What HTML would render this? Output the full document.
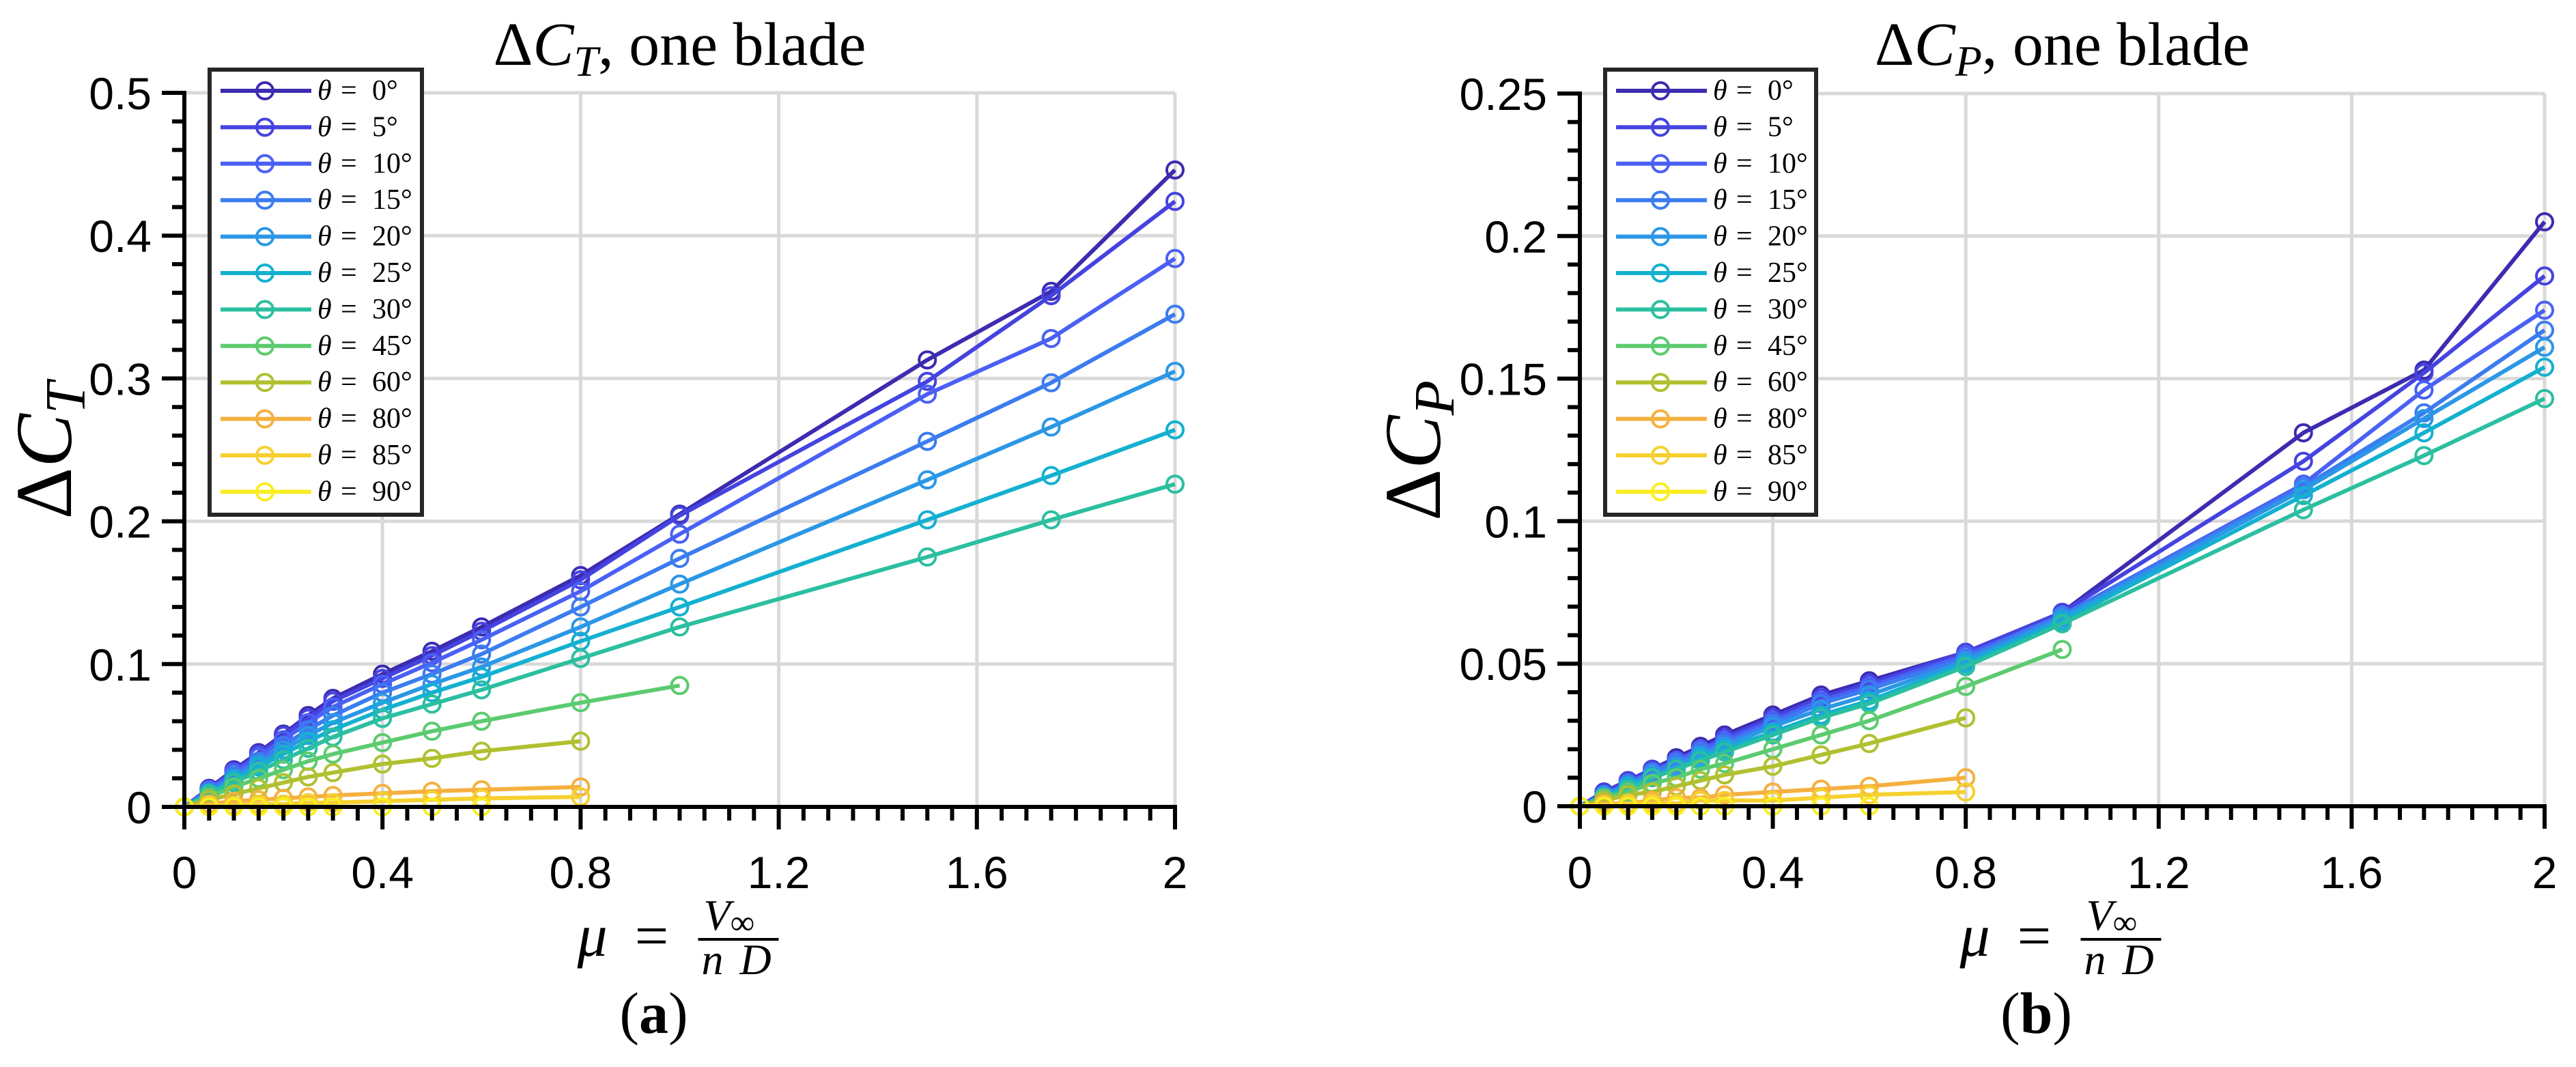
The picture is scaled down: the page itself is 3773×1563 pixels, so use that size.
<!DOCTYPE html>
<html><head><meta charset="utf-8">
<style>
html,body{margin:0;padding:0;background:#fff;}
svg{display:block;}
.tick{font-family:"Liberation Sans",Arial,sans-serif;font-size:66px;fill:#000;}
.ser{font-family:"Liberation Serif","DejaVu Serif",serif;fill:#000;}
</style></head>
<body>
<svg id="fig" width="3773" height="1563" viewBox="0 0 3773 1563" xmlns="http://www.w3.org/2000/svg"></svg>
<script>
const muValues = [0,0.05,0.1,0.15,0.2,0.25,0.3,0.4,0.5,0.6,0.8,1.0,1.5,1.75,2.0];
const thetaLabels = ['0','5','10','15','20','25','30','45','60','80','85','90'];
const seriesColors = ['#3d2bb0','#4543e0','#4a60f5','#3b7cf0','#2b97e6','#14b0d0','#2bbfa0','#5ccb70','#b0c030','#f5b040','#f5d030','#f9ee20'];
const xTickLabels = ['0','0.4','0.8','1.2','1.6','2'];
const xTickValues = [0,0.4,0.8,1.2,1.6,2];
const ctTickValues = [0,0.1,0.2,0.3,0.4,0.5];
const ctTickLabels = ['0','0.1','0.2','0.3','0.4','0.5'];
const cpTickValues = [0,0.05,0.1,0.15,0.2,0.25];
const cpTickLabels = ['0','0.05','0.1','0.15','0.2','0.25'];
const ctT0  = [0,0.013,0.026,0.038,0.051,0.064,0.076,0.093,0.109,0.126,0.162,0.205,0.313,0.361,0.446];
const ctT5  = [0,0.0125,0.025,0.037,0.050,0.062,0.074,0.090,0.106,0.123,0.159,0.204,0.298,0.358,0.424];
const ctT10 = [0,0.012,0.024,0.035,0.047,0.059,0.070,0.086,0.101,0.117,0.151,0.191,0.289,0.328,0.384];
const ctT15 = [0,0.011,0.022,0.032,0.043,0.054,0.064,0.080,0.093,0.107,0.140,0.174,0.256,0.297,0.345];
const ctT20 = [0,0.010,0.020,0.030,0.040,0.050,0.059,0.073,0.086,0.098,0.126,0.156,0.229,0.266,0.305];
const ctT25 = [0,0.0095,0.019,0.028,0.037,0.046,0.054,0.068,0.080,0.091,0.116,0.140,0.201,0.232,0.264];
const ctT30 = [0,0.009,0.017,0.025,0.033,0.041,0.049,0.062,0.072,0.082,0.104,0.126,0.175,0.201,0.226];
const ctT45 = [0,0.007,0.014,0.020,0.026,0.032,0.037,0.045,0.053,0.060,0.073,0.085];
const ctT60 = [0,0.005,0.009,0.013,0.017,0.021,0.024,0.030,0.034,0.039,0.046];
const ctT80 = [0,0.002,0.004,0.005,0.006,0.007,0.008,0.0095,0.011,0.012,0.014];
const ctT85 = [0,0.001,0.001,0.002,0.002,0.003,0.003,0.004,0.005,0.006,0.007];
const ctT90 = [0,0,0,0,0,0,0,0,0,0];
const cpT0  = [0,0.005,0.009,0.013,0.017,0.021,0.025,0.032,0.039,0.044,0.054,0.068,0.131,0.153,0.205];
const cpT5  = [0,0.005,0.009,0.013,0.016,0.020,0.024,0.031,0.038,0.043,0.054,0.068,0.121,0.152,0.186];
const cpT10 = [0,0.004,0.008,0.012,0.016,0.020,0.023,0.030,0.037,0.042,0.053,0.067,0.113,0.146,0.174];
const cpT15 = [0,0.004,0.008,0.012,0.015,0.019,0.022,0.029,0.036,0.041,0.052,0.067,0.112,0.138,0.167];
const cpT20 = [0,0.004,0.007,0.011,0.014,0.018,0.021,0.028,0.034,0.039,0.051,0.066,0.111,0.136,0.161];
const cpT25 = [0,0.003,0.007,0.010,0.013,0.017,0.020,0.026,0.032,0.037,0.050,0.065,0.109,0.131,0.154];
const cpT30 = [0,0.003,0.006,0.010,0.013,0.016,0.019,0.025,0.031,0.036,0.049,0.064,0.104,0.123,0.143];
const cpT45 = [0,0.003,0.005,0.008,0.010,0.013,0.015,0.020,0.025,0.030,0.042,0.055];
const cpT60 = [0,0.002,0.004,0.005,0.007,0.009,0.011,0.014,0.018,0.022,0.031];
const cpT80 = [0,0.001,0.001,0.002,0.003,0.003,0.004,0.005,0.006,0.007,0.010];
const cpT85 = [0,0.0005,0.001,0.001,0.001,0.002,0.002,0.002,0.003,0.004,0.005];
const cpT90 = [0,0,0,0,0,0,0,0,0,0];

const ctSeries = [ctT0,ctT5,ctT10,ctT15,ctT20,ctT25,ctT30,ctT45,ctT60,ctT80,ctT85,ctT90];
const cpSeries = [cpT0,cpT5,cpT10,cpT15,cpT20,cpT25,cpT30,cpT45,cpT60,cpT80,cpT85,cpT90];

const NS='http://www.w3.org/2000/svg';
const svg=document.getElementById('fig');
function mk(tag,attrs,parent){const e=document.createElementNS(NS,tag);for(const k in attrs)e.setAttribute(k,attrs[k]);(parent||svg).appendChild(e);return e;}

function panel(cfg){
  const g=mk('g',{});
  
  
  const X=v=>cfg.x0+(v-0)/(2-0)*(cfg.x1-cfg.x0);
  const Y=v=>cfg.y0-(v/cfg.ymax)*(cfg.y0-cfg.y1);
  const grid=mk('g',{stroke:'#d9d9d9','stroke-width':5},g);
  
  
  xTickValues.forEach(v=>{if(v>0)mk('line',{x1:X(v),x2:X(v),y1:cfg.y0,y2:cfg.y1},grid);});
  cfg.yticks.forEach(v=>{if(v>0)mk('line',{x1:cfg.x0,x2:cfg.x1,y1:Y(v),y2:Y(v)},grid);});
  const sg=mk('g',{},g);
  cfg.series.forEach((arr,i)=>{
    const s=mk('g',{},sg);
    
    
    const pts=arr.map((v,j)=>X(muValues[j])+','+Y(v)).join(' ');
    mk('polyline',{points:pts,fill:'none',stroke:seriesColors[i],'stroke-width':6,'stroke-linejoin':'round'},s);
    arr.forEach((v,j)=>{
      const c=mk('circle',{cx:X(muValues[j]),cy:Y(v),r:12,fill:'none',stroke:seriesColors[i],'stroke-width':4},s);
      
      
    });
  });
  const ax=mk('g',{stroke:'#000'},g);
  
  
  mk('line',{x1:cfg.x0,x2:cfg.x0,y1:cfg.y0+3,y2:cfg.y1-3,'stroke-width':6},ax);
  mk('line',{x1:cfg.x0-3,x2:cfg.x1+3,y1:cfg.y0,y2:cfg.y0,'stroke-width':6},ax);
  for(let k=0;k<=40;k++){const v=k*0.05;const maj=k%8===0;
    mk('line',{x1:X(v),x2:X(v),y1:cfg.y0,y2:cfg.y0+(maj?33:20),'stroke-width':6},ax);}
  const nMinor=Math.round(cfg.ymax/cfg.yminor);
  for(let k=0;k<=nMinor;k++){const v=k*cfg.yminor;const maj=k%5===0;
    mk('line',{x1:cfg.x0,x2:cfg.x0-(maj?33:18),y1:Y(v),y2:Y(v),'stroke-width':6},ax);}
  xTickValues.forEach((v,i)=>{const t=mk('text',{x:X(v),y:1301,'text-anchor':'middle',class:'tick'},g);t.textContent=xTickLabels[i];
    });
  cfg.yticks.forEach((v,i)=>{const t=mk('text',{x:cfg.x0-48,y:Y(v)+24,'text-anchor':'end',class:'tick'},g);t.textContent=cfg.ylabels[i];
    });
  const cx=(cfg.x0+cfg.x1)/2;
  const tt=mk('text',{x:cx,y:95,'text-anchor':'middle',class:'ser','font-size':90},g);
  
  tt.innerHTML='Δ<tspan font-style="italic">C</tspan><tspan font-style="italic" font-size="64" dy="16">'+cfg.sub+'</tspan><tspan dy="-16">, one blade</tspan>';
  const yl=mk('text',{x:0,y:0,'text-anchor':'middle',class:'ser','font-size':118,transform:'translate('+(cfg.x0-cfg.ylOff)+',660) rotate(-90)'},g);
  
  yl.innerHTML='Δ<tspan font-style="italic">C</tspan><tspan font-style="italic" font-size="84" dy="20">'+cfg.sub+'</tspan>';
  const xl=mk('g',{},g);
  
  const m=mk('text',{x:cx-150,y:1400,class:'ser','font-size':88,'font-style':'italic'},xl);m.textContent='μ';
  const eq=mk('text',{x:cx-41,y:1400,'text-anchor':'middle',class:'ser','font-size':88},xl);eq.textContent='=';
  const nm=mk('text',{x:cx+35,y:1362,class:'ser','font-size':64},xl);nm.innerHTML='<tspan font-style="italic">V</tspan><tspan font-size="50" dy="6">∞</tspan>';
  mk('line',{x1:cx+27,x2:cx+145,y1:1376,y2:1376,stroke:'#000','stroke-width':4},xl);
  const dn=mk('text',{x:cx+32,y:1427,class:'ser','font-size':64,'font-style':'italic'},xl);dn.innerHTML='n<tspan dx="24">D</tspan>';
  const pl=mk('text',{x:cx-38,y:1513,'text-anchor':'middle',class:'ser','font-size':86},g);
  
  pl.innerHTML='(<tspan font-weight="bold">'+cfg.letter+'</tspan>)';
  const lg=mk('g',{},g);
  
  mk('rect',{x:cfg.lx,y:102,width:cfg.lw,height:652,fill:'#fff',stroke:'#262626','stroke-width':6},lg);
  thetaLabels.forEach((th,i)=>{
    const y=133+i*53.4;
    const e=mk('g',{},lg);
    
    mk('line',{x1:cfg.lx+16,x2:cfg.lx+149,y1:y,y2:y,stroke:seriesColors[i],'stroke-width':6},e);
    mk('circle',{cx:cfg.lx+81,cy:y,r:12,fill:'none',stroke:seriesColors[i],'stroke-width':4},e);
    const t=mk('text',{x:cfg.lx+158,y:y+13,class:'ser','font-size':42},e);
    t.innerHTML='<tspan font-style="italic">θ</tspan><tspan x="'+(cfg.lx+192)+'">=</tspan><tspan x="'+(cfg.lx+238)+'">'+th+'°</tspan>';
  });
}
panel({name:'chart-delta-ct',x0:270,x1:1721,y0:1182,y1:136,ymax:0.5,yminor:0.02,yticks:ctTickValues,ylabels:ctTickLabels,series:ctSeries,sub:'T',letter:'a',lx:307,lw:311,ylOff:166});
panel({name:'chart-delta-cp',x0:2314,x1:3727,y0:1181,y1:137,ymax:0.25,yminor:0.01,yticks:cpTickValues,ylabels:cpTickLabels,series:cpSeries,sub:'P',letter:'b',lx:2351,lw:309,ylOff:205});
</script>
</body></html>
